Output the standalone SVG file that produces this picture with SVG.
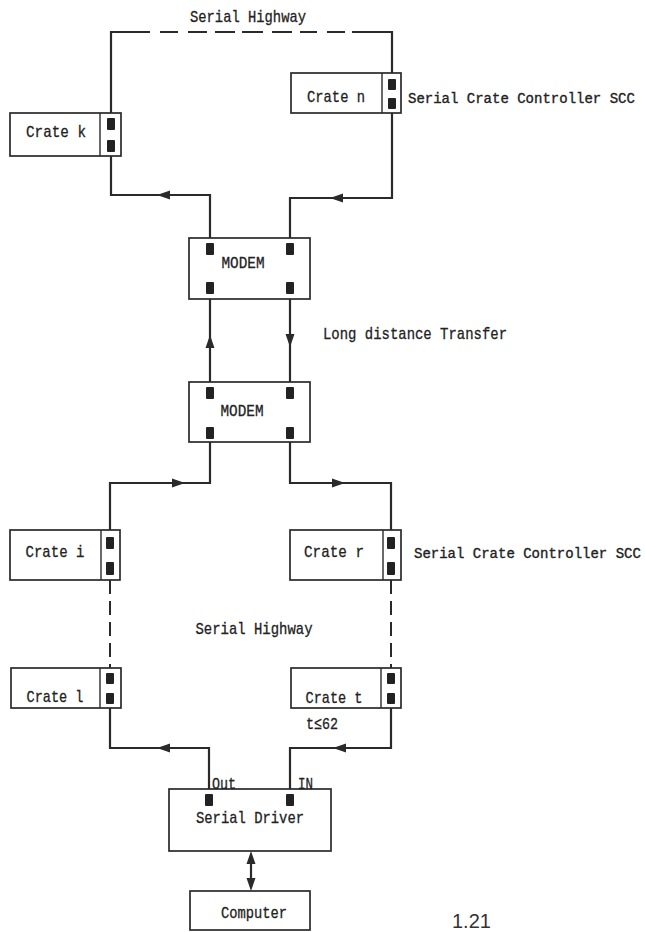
<svg xmlns="http://www.w3.org/2000/svg" width="645" height="932" viewBox="0 0 645 932">
<style>
.box{fill:#fff;stroke:#2a2a2a;stroke-width:1.7}
.div{stroke:#2a2a2a;stroke-width:1.4}
.pad{fill:#222}
.ln{fill:none;stroke:#2a2a2a;stroke-width:2.2}
.dash{fill:none;stroke:#2a2a2a;stroke-width:2;stroke-dasharray:14 7}
.ah{fill:#2a2a2a}
.t{font-family:"Liberation Mono","DejaVu Sans Mono",monospace;font-size:17px;fill:#222;stroke:#222;stroke-width:0.3}
.t14{font-family:"Liberation Mono","DejaVu Sans Mono",monospace;font-size:14px;fill:#222;stroke:#222;stroke-width:0.35}
.s{font-family:"Liberation Sans",Arial,sans-serif;font-size:20px;fill:#333}
</style>
<rect width="645" height="932" fill="#fff"/>

<g id="connectors">
  <path class="ln" d="M111 113 V32 H150"/>
  <path class="ln" d="M160 32 H178 M188 32 H207 M215 32 H235 M242 32 H263 M272 32 H292 M300 32 H317 M327 32 H345"/>
  <path class="ln" d="M352 32 H392 V73"/>
  <path class="ln" d="M111 156 V195 H210 V243"/>
  <path class="ln" d="M392 113 V198 H290 V243"/>
  <polygon class="ah" points="157,195 170,190.5 170,199.5"/>
  <polygon class="ah" points="330,198 343,193.5 343,202.5"/>
  <path class="ln" d="M210 293 V387"/>
  <path class="ln" d="M290 293 V387"/>
  <polygon class="ah" points="210,335 205.5,348 214.5,348"/>
  <polygon class="ah" points="290,347 285.5,334 294.5,334"/>
  <path class="ln" d="M210 439 V483 H110 V530"/>
  <path class="ln" d="M290 439 V483 H391 V530"/>
  <polygon class="ah" points="185,483 172,478.5 172,487.5"/>
  <polygon class="ah" points="345,483 332,478.5 332,487.5"/>
  <path class="dash" d="M110 580 V668"/>
  <path class="dash" d="M391 580 V668"/>
  <path class="ln" d="M110 708 V748 H209 V794"/>
  <path class="ln" d="M391 708 V748 H290 V794"/>
  <polygon class="ah" points="157,748 170,743.5 170,752.5"/>
  <polygon class="ah" points="333,748 346,743.5 346,752.5"/>
  <path class="ln" d="M251 860 V882"/>
  <polygon class="ah" points="251,851 246.5,864 255.5,864"/>
  <polygon class="ah" points="251,891 246.5,878 255.5,878"/>
</g>

<text class="t" x="248" y="22" text-anchor="middle" textLength="116" lengthAdjust="spacingAndGlyphs">Serial Highway</text>

<g id="crate-n">
  <rect class="box" x="291" y="73" width="110" height="40"/>
  <line class="div" x1="382" y1="73" x2="382" y2="113"/>
  <rect class="pad" x="388" y="79" width="8" height="11" rx="1"/>
  <rect class="pad" x="388" y="98" width="8" height="11" rx="1"/>
  <text class="t" x="336" y="102" text-anchor="middle" textLength="58" lengthAdjust="spacingAndGlyphs">Crate n</text>
</g>
<text class="t14" x="408" y="103">Serial Crate Controller SCC</text>

<g id="crate-k">
  <rect class="box" x="10" y="113" width="111" height="43"/>
  <line class="div" x1="100" y1="113" x2="100" y2="156"/>
  <rect class="pad" x="107" y="118" width="8" height="12" rx="1"/>
  <rect class="pad" x="107" y="140" width="8" height="12" rx="1"/>
  <text class="t" x="56" y="137" text-anchor="middle" textLength="60" lengthAdjust="spacingAndGlyphs">Crate k</text>
</g>

<g id="modem-1">
  <rect class="box" x="189" y="238" width="121" height="61"/>
  <rect class="pad" x="206" y="243" width="8" height="12" rx="1"/>
  <rect class="pad" x="286" y="243" width="8" height="12" rx="1"/>
  <rect class="pad" x="206" y="282" width="8" height="12" rx="1"/>
  <rect class="pad" x="286" y="282" width="8" height="12" rx="1"/>
  <text class="t" x="243" y="268" text-anchor="middle" textLength="43" lengthAdjust="spacingAndGlyphs">MODEM</text>
</g>

<text class="t" x="323" y="339" textLength="184" lengthAdjust="spacingAndGlyphs">Long distance Transfer</text>

<g id="modem-2">
  <rect class="box" x="189" y="382" width="121" height="60"/>
  <rect class="pad" x="206" y="387" width="8" height="12" rx="1"/>
  <rect class="pad" x="286" y="387" width="8" height="12" rx="1"/>
  <rect class="pad" x="206" y="427" width="8" height="12" rx="1"/>
  <rect class="pad" x="286" y="427" width="8" height="12" rx="1"/>
  <text class="t" x="242" y="416" text-anchor="middle" textLength="43" lengthAdjust="spacingAndGlyphs">MODEM</text>
</g>

<g id="crate-i">
  <rect class="box" x="10" y="530" width="110" height="50"/>
  <line class="div" x1="101" y1="530" x2="101" y2="580"/>
  <rect class="pad" x="106" y="537" width="8" height="12" rx="1"/>
  <rect class="pad" x="106" y="562" width="8" height="13" rx="1"/>
  <text class="t" x="55" y="557" text-anchor="middle" textLength="59" lengthAdjust="spacingAndGlyphs">Crate i</text>
</g>

<g id="crate-r">
  <rect class="box" x="290" y="530" width="111" height="50"/>
  <line class="div" x1="383" y1="530" x2="383" y2="580"/>
  <rect class="pad" x="387" y="537" width="8" height="12" rx="1"/>
  <rect class="pad" x="387" y="562" width="8" height="13" rx="1"/>
  <text class="t" x="334" y="557" text-anchor="middle" textLength="60" lengthAdjust="spacingAndGlyphs">Crate r</text>
</g>
<text class="t14" x="414" y="558">Serial Crate Controller SCC</text>

<text class="t" x="254" y="634" text-anchor="middle" textLength="117" lengthAdjust="spacingAndGlyphs">Serial Highway</text>

<g id="crate-l">
  <rect class="box" x="11" y="668" width="110" height="40"/>
  <line class="div" x1="100" y1="668" x2="100" y2="708"/>
  <rect class="pad" x="106" y="673" width="8" height="11" rx="1"/>
  <rect class="pad" x="106" y="693" width="8" height="11" rx="1"/>
  <text class="t" x="55" y="702" text-anchor="middle" textLength="57" lengthAdjust="spacingAndGlyphs">Crate l</text>
</g>

<g id="crate-t">
  <rect class="box" x="291" y="668" width="110" height="40"/>
  <line class="div" x1="381" y1="668" x2="381" y2="708"/>
  <rect class="pad" x="387" y="673" width="8" height="11" rx="1"/>
  <rect class="pad" x="387" y="693" width="8" height="11" rx="1"/>
  <text class="t" x="334" y="703" text-anchor="middle" textLength="57" lengthAdjust="spacingAndGlyphs">Crate t</text>
</g>
<text class="t" x="306" y="729" textLength="32" lengthAdjust="spacingAndGlyphs">t≤62</text>

<g id="serial-driver">
  <rect class="box" x="169" y="789" width="162" height="62"/>
  <rect class="pad" x="205" y="794" width="8" height="12" rx="1"/>
  <rect class="pad" x="286" y="794" width="8" height="12" rx="1"/>
  <text class="t" x="250" y="823" text-anchor="middle" textLength="108" lengthAdjust="spacingAndGlyphs">Serial Driver</text>
  <text class="t" x="212" y="789" textLength="24" lengthAdjust="spacingAndGlyphs">Out</text>
  <text class="t" x="298" y="789" textLength="15" lengthAdjust="spacingAndGlyphs">IN</text>
</g>

<g id="computer">
  <rect class="box" x="190" y="891" width="120" height="39"/>
  <text class="t" x="254" y="918" text-anchor="middle" textLength="66" lengthAdjust="spacingAndGlyphs">Computer</text>
</g>

<text class="s" x="452" y="928">1.21</text>
</svg>
